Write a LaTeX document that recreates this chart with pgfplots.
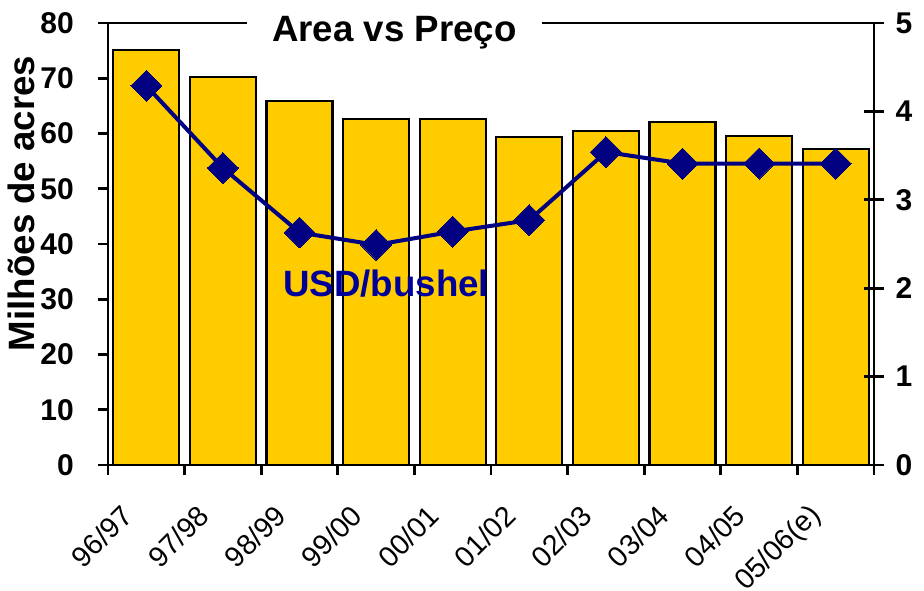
\documentclass[border=0pt]{standalone}
\usepackage{pgfplots}
\pgfplotsset{compat=1.18}
\usepackage{fontspec}
\setmainfont{Liberation Sans}
\definecolor{baryellow}{HTML}{FFCC00}
\definecolor{navyline}{HTML}{000080}
\definecolor{navytext}{HTML}{000099}
\begin{document}
\begin{tikzpicture}
\begin{axis}[
  at={(81pt,94.5pt)}, anchor=south west,
  width=574.5pt, height=331.5pt, scale only axis,
  xmin=-0.5, xmax=9.5, ymin=0, ymax=80,
  axis line style={line width=2pt},
  every tick/.style={line width=2pt, black},
  tick align=outside,
  major tick length=7.5pt,
  xtick={-0.5,0.5,...,9.5},
  xticklabels={96/97,97/98,98/99,99/00,00/01,01/02,02/03,03/04,04/05,05/06(e),{}},
  xtick pos=bottom, ytick pos=left,
  ytick={0,10,...,80},
  /pgf/number format/assume math mode=true,
  yticklabel style={font=\fontsize{22.5}{27}\selectfont\bfseries, inner sep=0pt, anchor=east, xshift=-18pt},
  xticklabel style={font=\fontsize{21.5}{25}\selectfont, inner sep=0pt, anchor=east, xshift=14.5pt, yshift=-27pt, rotate=45},
  ylabel={Milhões de acres},
  ylabel style={font=\fontsize{27.5}{32}\selectfont\bfseries, at={(axis description cs:-0.0953,0.592)}, anchor=base},
]
\addplot[ybar, bar width=0.86, fill=baryellow, draw=black, line width=1.6pt]
  coordinates {(0,75.1) (1,70.2) (2,65.9) (3,62.6) (4,62.6) (5,59.4) (6,60.5) (7,62.1) (8,59.5) (9,57.2)};
\end{axis}
\begin{axis}[
  at={(81pt,94.5pt)}, anchor=south west,
  width=574.5pt, height=331.5pt, scale only axis,
  xmin=-0.5, xmax=9.5, ymin=0, ymax=5,
  axis x line=none, axis y line*=right,
  axis line style={line width=2pt, -},
  every tick/.style={line width=2pt, black},
  tick align=center,
  major tick length=15pt,
  ytick={0,1,...,5},
  /pgf/number format/assume math mode=true,
  yticklabel style={font=\fontsize{22.5}{27}\selectfont\bfseries, inner sep=0pt, anchor=west, xshift=8.5pt},
]
\addplot[color=navyline, line width=3pt, mark=square*, mark size=8.2pt, mark options={rotate=45, fill=navyline, draw=navyline, line width=0pt}]
  coordinates {(0,4.29) (1,3.36) (2,2.63) (3,2.49) (4,2.64) (5,2.77) (6,3.54) (7,3.41) (8,3.41) (9,3.41)};
\end{axis}
\node[anchor=base west, text=navytext, font=\fontsize{27.5}{32}\selectfont\bfseries, inner sep=0pt] at (212.25pt,220.5pt) {USD/bushel};
\node[anchor=base, fill=white, font=\fontsize{27.5}{32}\selectfont\bfseries, inner xsep=18.75pt, inner ysep=4pt] at (295.9pt,411.75pt) {Area vs Preço};
\pgfresetboundingbox
\path[use as bounding box] (0,0) rectangle (693pt,443.25pt);
\end{tikzpicture}
\end{document}
